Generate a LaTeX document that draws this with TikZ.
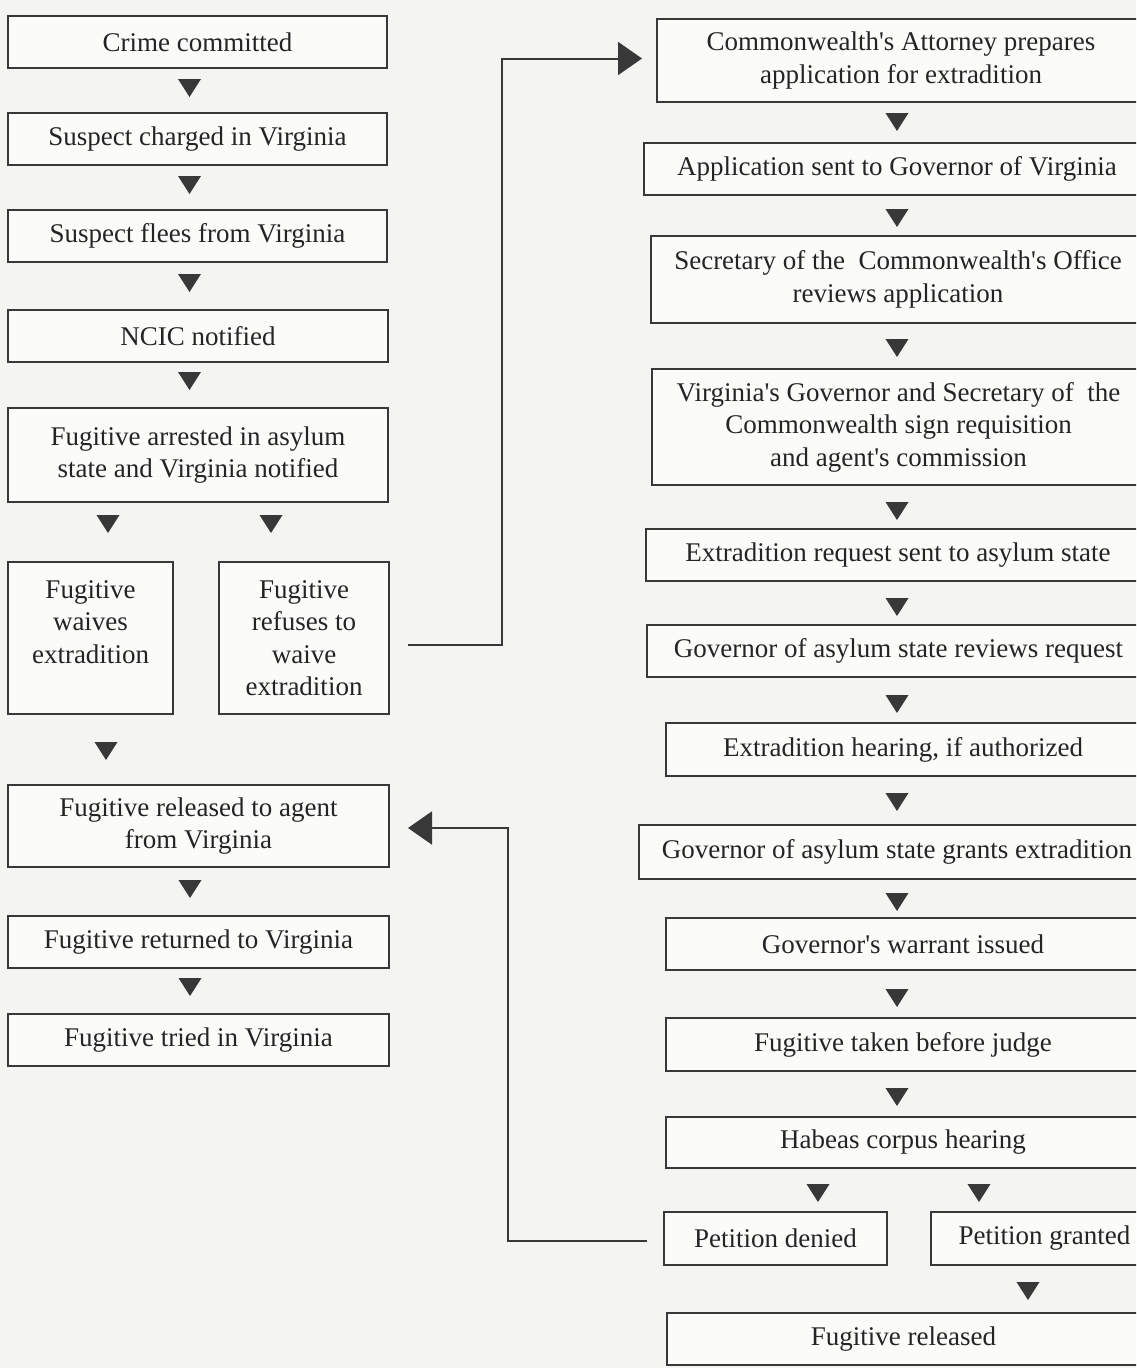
\documentclass[tikz,border=0pt]{standalone}
\usepackage{fontspec}
\setmainfont{Liberation Serif}
\usetikzlibrary{arrows.meta,calc}
\definecolor{bgcol}{HTML}{F4F4F2}
\definecolor{linecol}{HTML}{383838}
\definecolor{txtcol}{HTML}{242424}
\newcommand\ap{\textquotesingle}
\tikzset{
  box/.style={draw=linecol, line width=2pt, fill=white!60!bgcol, text=txtcol, align=center,
    inner sep=0pt, font=\fontsize{27}{32.5}\selectfont},
  tri/.style={fill=linecol},
  conn/.style={draw=linecol, line width=2pt, -{Triangle[length=24pt,width=33pt]}},
}
\newcommand\bx[6]{\node[box, minimum width={(#4-#2)*1pt}, minimum height={(#5-#3)*1pt}] (#1) at ({(#2+#4)/2},{(#3+#5)/2}) {#6};}
\newcommand\dtri[2]{\fill[tri] (#1-11.5,#2-9) -- (#1+11.5,#2-9) -- (#1,#2+9) -- cycle;}
\begin{document}
\begin{tikzpicture}[x=1pt,y=-1pt]
\useasboundingbox (0,0) rectangle (1136,1368);
\clip (0,0) rectangle (1136,1368);
\fill[bgcol] (0,0) rectangle (1136,1368);
% left column
\bx{crime}{8}{16}{387}{68}{Crime committed}
\bx{charged}{8}{113}{387}{165}{Suspect charged in Virginia}
\bx{flees}{8}{210}{387}{262}{Suspect flees from Virginia}
\bx{ncic}{8}{310}{388}{362}{NCIC notified}
\bx{arrest}{8}{408}{388}{502}{Fugitive arrested in asylum\\state and Virginia notified}
\bx{waive}{8}{562}{173}{714}{Fugitive\\waives\\extradition\\\mbox{}}
\bx{refuse}{219}{562}{389}{714}{Fugitive\\refuses to\\waive\\extradition}
\bx{agent}{8}{785}{389}{867}{Fugitive released to agent\\from Virginia}
\bx{returned}{8}{916}{389}{968}{Fugitive returned to Virginia}
\bx{tried}{8}{1014}{389}{1066}{Fugitive tried in Virginia}
\dtri{189.5}{88}
\dtri{189.5}{185}
\dtri{189.5}{283}
\dtri{189.5}{381}
\dtri{108}{524}
\dtri{271}{524}
\dtri{106}{751}
\dtri{190}{889}
\dtri{190}{987}
% right column
\bx{attorney}{657}{19}{1145}{102}{Commonwealth\ap s Attorney prepares\\application for extradition}
\bx{sent}{644}{143}{1150}{195}{Application sent to Governor of Virginia}
\bx{secretary}{651}{236}{1145}{323}{Secretary of the\ \ Commonwealth\ap s Office\\reviews application}
\bx{sign}{652}{369}{1145}{485}{Virginia\ap s Governor and Secretary of\ \ the\\Commonwealth sign requisition\\and agent\ap s commission}
\bx{request}{646}{529}{1150}{581}{Extradition request sent to asylum state}
\bx{reviews}{647}{625}{1150}{677}{Governor of asylum state reviews request}
\bx{hearing}{666}{723}{1140}{776}{Extradition hearing, if authorized}
\bx{grants}{639}{825}{1155}{879}{Governor of asylum state grants extradition}
\bx{warrant}{666}{918}{1140}{970}{Governor\ap s warrant issued}
\bx{judge}{666}{1018}{1140}{1071}{Fugitive taken before judge}
\bx{habeas}{666}{1117}{1140}{1168}{Habeas corpus hearing}
\bx{denied}{664}{1212}{887}{1265}{Petition denied}
\bx{granted}{931}{1212}{1158}{1265}{Petition granted}
\bx{released}{667}{1313}{1140}{1365}{Fugitive released}
\dtri{897}{122}
\dtri{897}{218}
\dtri{897}{348}
\dtri{897}{511}
\dtri{897}{607}
\dtri{897}{704}
\dtri{897}{802}
\dtri{897}{902}
\dtri{897}{998}
\dtri{897}{1097}
\dtri{818}{1193}
\dtri{979}{1193}
\dtri{1028}{1291}
% connectors
\draw[conn] ([xshift=18pt,yshift=-7pt]refuse.east) -- ++(94,0) |- ([xshift=-14pt,yshift=2pt]attorney.west);
\draw[conn] ([xshift=-16pt,yshift=-2pt]denied.west) -- ++(-139,0) |- ([xshift=18pt,yshift=-2pt]agent.east);
\end{tikzpicture}
\end{document}
